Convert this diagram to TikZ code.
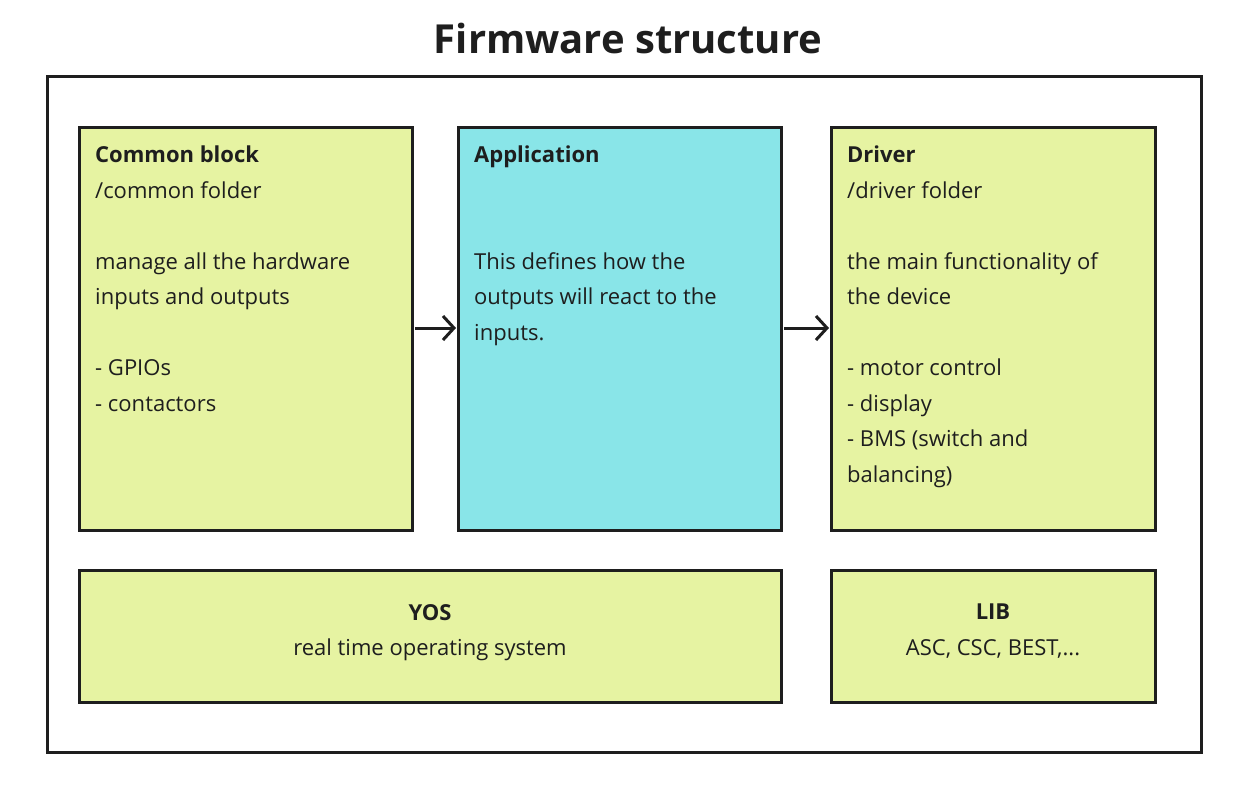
\documentclass[tikz,border=0pt]{standalone}
\usepackage{fontspec}
\setmainfont{Open Sans}
\usetikzlibrary{arrows.meta}
\definecolor{ink}{HTML}{1E1E1E}
\definecolor{lime}{HTML}{E6F3A2}
\definecolor{cyanb}{HTML}{89E5E8}
\begin{document}
\begin{tikzpicture}[x=1pt,y=1pt,
  box/.style={draw=ink,line width=3pt,fill=lime},
  txt/.style={anchor=north west,inner sep=0pt,align=left,text=ink,font=\fontsize{22}{35.5}\selectfont},
  ctxt/.style={anchor=north,inner sep=0pt,align=center,text=ink,font=\fontsize{22}{35.5}\selectfont},
  arr/.style={draw=ink,line width=3pt,-{Straight Barb[length=11pt,width=24pt,line width=3pt]}}]
\useasboundingbox (0,0) rectangle (1257,-795);
\fill[white] (0,0) rectangle (1257,-795);
\node[text=ink,font=\fontsize{40}{48}\selectfont\bfseries] (title) at (628,-38) {Firmware structure};
\draw[ink,line width=3pt] (47,-76) rectangle (1201,-752);
\draw[box] (79,-127) rectangle (412,-530) coordinate (cse);
\coordinate (cmn) at (412,-328);
\draw[box,fill=cyanb] (458,-127) rectangle (781,-530);
\coordinate (appw) at (458,-328);
\coordinate (appe) at (781,-328);
\draw[box] (831,-127) rectangle (1155,-530);
\coordinate (drvw) at (831,-328);
\draw[box] (79,-570) rectangle (781,-702);
\draw[box] (831,-570) rectangle (1155,-702);
\node[txt] (tc) at (95,-146) {\textbf{Common block}\\/common folder\\[35.5pt]manage all the hardware\\inputs and outputs\\[35.5pt]- GPIOs\\- contactors};
\node[txt] (ta) at (474,-146) {\textbf{Application}\\[71pt]This defines how the\\outputs will react to the\\inputs.};
\node[txt] (td) at (847,-146) {\textbf{Driver}\\/driver folder\\[35.5pt]the main functionality of\\the device\\[35.5pt]- motor control\\- display\\- BMS (switch and\\balancing)};
\node[ctxt] (ty) at (430,-604) {\textbf{YOS}\\real time operating system};
\node[ctxt] (tl) at (993,-604) {\textbf{LIB}\\ASC, CSC, BEST,...};
\draw[arr,shorten <=3pt,shorten >=2pt] (cmn) -- (appw);
\draw[arr,shorten <=3pt,shorten >=2pt] (appe) -- (drvw);
\end{tikzpicture}
\end{document}
